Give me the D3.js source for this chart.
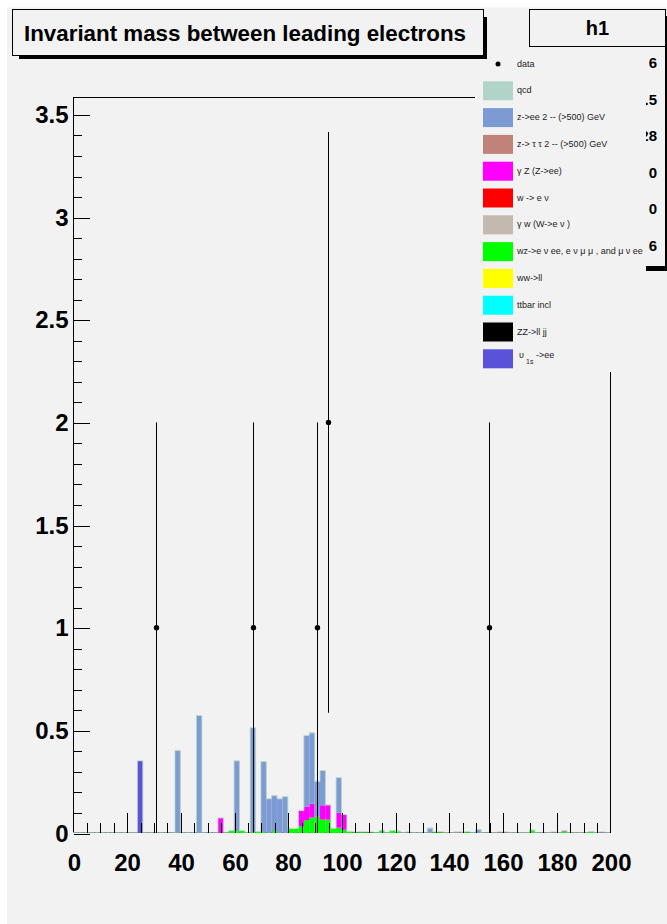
<!DOCTYPE html>
<html>
<head>
<meta charset="utf-8">
<script src="https://cdn.jsdelivr.net/npm/d3@7"></script>
<style>
  html, body { margin: 0; padding: 0; background: #ffffff; }
  svg { display: block; font-family: "Liberation Sans", Arial, Helvetica, sans-serif; }
</style>
</head>
<body>
<div id="chart"></div>
<script>
// bins of 2 GeV from 0 to 200
const massBins = d3.range(0, 200, 2);

// MC samples, [bin low edge, weighted entries]
const upsilon = [[24, 0.35]];
const zz = [];
const ttbar = [];
const ww = [];
const wz = [[58, 0.01], [60, 0.01], [62, 0.01], [66, 0.005], [68, 0.005], [70, 0.005], [74, 0.01],
    [80, 0.02], [82, 0.02], [84, 0.033], [86, 0.062], [88, 0.075], [90, 0.08], [92, 0.065],
    [94, 0.065], [96, 0.021], [98, 0.026], [100, 0.016], [102, 0.006], [104, 0.004], [106, 0.004],
    [108, 0.003], [110, 0.003], [114, 0.01], [118, 0.01], [120, 0.008], [134, 0.004], [136, 0.004],
    [146, 0.004], [170, 0.013], [182, 0.005], [192, 0.005]];
const gammaW = [[124, 0.003], [142, 0.004], [144, 0.004], [158, 0.003], [160, 0.003], [178, 0.003], [196, 0.003]];
const wenu = [];
const gammaZ = [[54, 0.072], [84, 0.074], [86, 0.066], [88, 0.068], [92, 0.07], [94, 0.07], [98, 0.072], [100, 0.072]];
const ztautau = [[182, 0.005]];
const zee = [[38, 0.40], [46, 0.57], [60, 0.34], [66, 0.506], [70, 0.341], [72, 0.165], [74, 0.17],
    [76, 0.165], [78, 0.175], [86, 0.345], [88, 0.343], [90, 0.17], [92, 0.167], [98, 0.17],
    [132, 0.022], [150, 0.015]];
const qcd = [];

// data, [bin low edge, entries]
const dataPoints = [[30, 1], [66, 1], [90, 1], [94, 2], [154, 1]];

// legend (top to bottom), stack is drawn bottom-up in reverse order
const sampleKeys = ['qcd', 'zee', 'ztautau', 'gammaZ', 'wenu', 'gammaW', 'wz', 'ww', 'ttbar', 'zz', 'upsilon'];
const sampleLabels = ['qcd', 'z->ee 2 -- (>500) GeV', 'z-> \u03c4 \u03c4 2 -- (>500) GeV', '\u03b3 Z (Z->ee)',
    'w -> e \u03bd', '\u03b3 w (W->e \u03bd )', 'wz->e \u03bd ee, e \u03bd \u03bc  \u03bc , and \u03bc  \u03bd ee',
    'ww->ll', 'ttbar incl', 'ZZ->ll jj', 'upsilon'];
const sampleColors = ['#b2d3c8', '#7d9bd3', '#c0837a', '#ff00ff', '#ff0000', '#c4b9ae', '#00ff00',
    '#ffff00', '#00ffff', '#000000', '#5b52da'];
const sampleData = { qcd, zee, ztautau, gammaZ, wenu, gammaW, wz, ww, ttbar, zz, upsilon };

const yTicks = [0, 0.5, 1, 1.5, 2, 2.5, 3, 3.5];
const xTicks = [0, 20, 40, 60, 80, 100, 120, 140, 160, 180, 200];

// stats box values (labels sit under the legend)
const statValues = ['6', '89.5', '37.28', '0', '0', '6'];

class MassStackPlot {
    constructor(containerID, width, height) {
        this.containerID = containerID;
        this.width = width;
        this.height = height;
        this.frame = { left: 73, right: 610, top: 97, bottom: 833 };
        this.initVis();
    }

    initVis() {
        let vis = this;

        vis.svg = d3.select(vis.containerID)
            .append('svg')
            .attr('width', vis.width)
            .attr('height', vis.height);

        // canvas background
        vis.svg.append('rect')
            .attr('x', 7).attr('y', 7.5)
            .attr('width', vis.width - 7).attr('height', vis.height - 7.5)
            .attr('fill', '#f2f2f2');

        vis.xScale = d3.scaleLinear().domain([0, 200]).range([vis.frame.left, vis.frame.right]);
        vis.yScale = d3.scaleLinear().domain([0, 3.585]).range([vis.frame.bottom, vis.frame.top]);

        vis.updateVis();
    }

    updateVis() {
        let vis = this;

        // table of bins for d3.stack
        let table = massBins.map(b => {
            let row = { x0: b };
            sampleKeys.forEach(k => {
                let hit = sampleData[k].find(d => d[0] === b);
                row[k] = hit ? hit[1] : 0;
            });
            return row;
        });

        let stackOrder = sampleKeys.slice().reverse();
        let series = d3.stack().keys(stackOrder)(table);
        let colorOf = d3.scaleOrdinal().domain(sampleKeys).range(sampleColors);

        // frame
        let f = vis.frame;
        vis.svg.append('rect')
            .attr('x', f.left + 0.5).attr('y', f.top + 0.5)
            .attr('width', f.right - f.left).attr('height', f.bottom - f.top - 1)
            .attr('fill', 'none')
            .attr('stroke', '#000');

        // stacked bars
        vis.svg.append('g')
            .selectAll('g')
            .data(series)
            .join('g')
            .attr('fill', d => colorOf(d.key))
            .selectAll('rect')
            .data(d => d.filter(p => p[1] - p[0] > 0))
            .join('rect')
            .attr('x', d => vis.xScale(d.data.x0))
            .attr('width', d => vis.xScale(d.data.x0 + 2) - vis.xScale(d.data.x0))
            .attr('y', d => vis.yScale(d[1]))
            .attr('height', d => vis.yScale(d[0]) - vis.yScale(d[1]));

        // outline of the total (qcd on top)
        let totals = table.map(r => [r.x0, d3.sum(sampleKeys, k => r[k])]);
        totals.push([200, totals[totals.length - 1][1]]);
        vis.svg.append('path')
            .datum(totals)
            .attr('fill', 'none')
            .attr('stroke', colorOf('qcd'))
            .attr('stroke-opacity', 0.8)
            .attr('d', d3.line()
                .x(d => vis.xScale(d[0]))
                .y(d => vis.yScale(d[1]) - 0.5)
                .curve(d3.curveStepAfter));

        // data with errors
        let dataG = vis.svg.append('g');
        dataG.selectAll('line')
            .data(dataPoints)
            .join('line')
            .attr('x1', d => Math.round(vis.xScale(d[0] + 1)) + 0.5)
            .attr('x2', d => Math.round(vis.xScale(d[0] + 1)) + 0.5)
            .attr('y1', d => vis.yScale(d[1] + Math.sqrt(d[1])))
            .attr('y2', d => vis.yScale(Math.max(0, d[1] - Math.sqrt(d[1]))))
            .attr('stroke', '#000');
        dataG.selectAll('circle')
            .data(dataPoints)
            .join('circle')
            .attr('cx', d => Math.round(vis.xScale(d[0] + 1)) + 0.5)
            .attr('cy', d => vis.yScale(d[1]))
            .attr('r', 2.7)
            .attr('fill', '#000');

        vis.drawAxes();
        vis.drawStats();
        vis.drawLegend();
        vis.drawTitle();
    }

    drawAxes() {
        let vis = this;
        let f = vis.frame;

        // y ticks inside the frame
        let yMinor = d3.range(0, 36).map(i => i / 10).filter(v => Math.abs(v * 2 - Math.round(v * 2)) > 1e-6);
        vis.svg.append('g')
            .attr('transform', `translate(${f.left + 0.5},0)`)
            .call(d3.axisRight(vis.yScale).tickValues(yTicks).tickSize(16).tickFormat(''))
            .call(g => g.select('.domain').remove());
        vis.svg.append('g')
            .attr('transform', `translate(${f.left + 0.5},0)`)
            .call(d3.axisRight(vis.yScale).tickValues(yMinor).tickSize(8).tickFormat(''))
            .call(g => g.select('.domain').remove());
        vis.svg.append('g')
            .attr('transform', `translate(${f.left},0)`)
            .call(d3.axisLeft(vis.yScale).tickValues(yTicks).tickSize(0).tickPadding(5).tickFormat(d3.format('')))
            .call(g => g.select('.domain').remove())
            .selectAll('text')
            .attr('font-size', 24)
            .attr('font-weight', 'bold')
            .attr('font-family', '"Liberation Sans", Arial, sans-serif')
            .attr('fill', '#000');

        // x ticks inside the frame
        let xMinor = d3.range(5, 200, 5).filter(v => v % 20 !== 0);
        vis.svg.append('g')
            .attr('transform', `translate(0,${f.bottom - 0.5})`)
            .call(d3.axisTop(vis.xScale).tickValues(xTicks.slice(1, -1)).tickSize(20).tickFormat(''))
            .call(g => g.select('.domain').remove());
        vis.svg.append('g')
            .attr('transform', `translate(0,${f.bottom - 0.5})`)
            .call(d3.axisTop(vis.xScale).tickValues(xMinor).tickSize(10).tickFormat(''))
            .call(g => g.select('.domain').remove());
        vis.svg.append('g')
            .attr('transform', `translate(0,${f.bottom})`)
            .call(d3.axisBottom(vis.xScale).tickValues(xTicks).tickSize(0).tickPadding(20))
            .call(g => g.select('.domain').remove())
            .selectAll('text')
            .attr('font-size', 24)
            .attr('font-weight', 'bold')
            .attr('font-family', '"Liberation Sans", Arial, sans-serif')
            .attr('fill', '#000');

        vis.svg.selectAll('.tick line').attr('stroke', '#000');
        vis.svg.selectAll('.tick line').each(function () {
            let t = d3.select(this.parentNode).attr('transform');
            let m = /translate\(([-\d.]+),([-\d.]+)\)/.exec(t);
            if (m) {
                d3.select(this.parentNode).attr('transform',
                    `translate(${Math.round(+m[1]) + 0.5},${Math.round(+m[2]) + 0.5})`);
            }
        });
    }

    drawStats() {
        let vis = this;
        let g = vis.svg.append('g');

        g.append('rect')
            .attr('x', 536).attr('y', 16)
            .attr('width', 135).attr('height', 255)
            .attr('fill', '#000');
        g.append('rect')
            .attr('x', 529.5).attr('y', 9.5)
            .attr('width', 136).attr('height', 257)
            .attr('fill', '#f2f2f2')
            .attr('stroke', '#000');
        g.append('line')
            .attr('x1', 529.5).attr('x2', 665.5)
            .attr('y1', 46.5).attr('y2', 46.5)
            .attr('stroke', '#000');
        g.append('text')
            .attr('x', 597.5).attr('y', 35)
            .attr('text-anchor', 'middle')
            .attr('font-size', 20)
            .attr('font-weight', 'bold')
            .text('h1');

        g.selectAll('.stat-value')
            .data(statValues)
            .join('text')
            .attr('class', 'stat-value')
            .attr('x', 657)
            .attr('y', (d, i) => 68 + i * 36.5)
            .attr('text-anchor', 'end')
            .attr('font-size', 15)
            .attr('font-weight', 'bold')
            .text(d => d);
    }

    drawLegend() {
        let vis = this;
        let g = vis.svg.append('g');

        g.append('rect')
            .attr('x', 475).attr('y', 47)
            .attr('width', 171).attr('height', 325)
            .attr('fill', '#f2f2f2');

        let rowY = i => 64 + i * 26.8;

        // data entry
        g.append('circle')
            .attr('cx', 498).attr('cy', rowY(0))
            .attr('r', 2.5)
            .attr('fill', '#000');
        g.append('text')
            .attr('x', 517).attr('y', rowY(0) + 2.5)
            .attr('font-size', 9)
            .attr('fill', '#222')
            .text('data');

        let entries = g.selectAll('.entry')
            .data(sampleKeys)
            .join('g')
            .attr('class', 'entry')
            .attr('transform', (d, i) => `translate(0,${rowY(i + 1)})`);

        entries.append('rect')
            .attr('x', 483).attr('y', -9.5)
            .attr('width', 30).attr('height', 19)
            .attr('fill', (d, i) => sampleColors[i]);

        entries.filter(d => d !== 'upsilon')
            .append('text')
            .attr('x', 517).attr('y', 2.5)
            .attr('font-size', 9)
            .attr('fill', '#222')
            .text(d => sampleLabels[sampleKeys.indexOf(d)]);

        let ups = entries.filter(d => d === 'upsilon')
            .append('text')
            .attr('y', -0.5)
            .attr('font-size', 9)
            .attr('fill', '#222');
        ups.append('tspan').attr('x', 519).text('\u03c5');
        ups.append('tspan').attr('x', 526).attr('dy', 6).attr('font-size', 7).text('1s');
        ups.append('tspan').attr('x', 536).attr('dy', -6).text('->ee');
    }

    drawTitle() {
        let vis = this;
        let g = vis.svg.append('g');

        g.append('rect')
            .attr('x', 19).attr('y', 17)
            .attr('width', 468).attr('height', 42)
            .attr('fill', '#000');
        g.append('rect')
            .attr('x', 12.5).attr('y', 9.5)
            .attr('width', 471).attr('height', 46)
            .attr('fill', '#f2f2f2')
            .attr('stroke', '#000');
        g.append('text')
            .attr('x', 24).attr('y', 40.5)
            .attr('font-size', 22)
            .attr('font-weight', 'bold')
            .attr('fill', '#000')
            .attr('textLength', 442)
            .attr('lengthAdjust', 'spacingAndGlyphs')
            .text('Invariant mass between leading electrons');
    }
}

new MassStackPlot('#chart', 667, 924);
</script>
</body>
</html>
